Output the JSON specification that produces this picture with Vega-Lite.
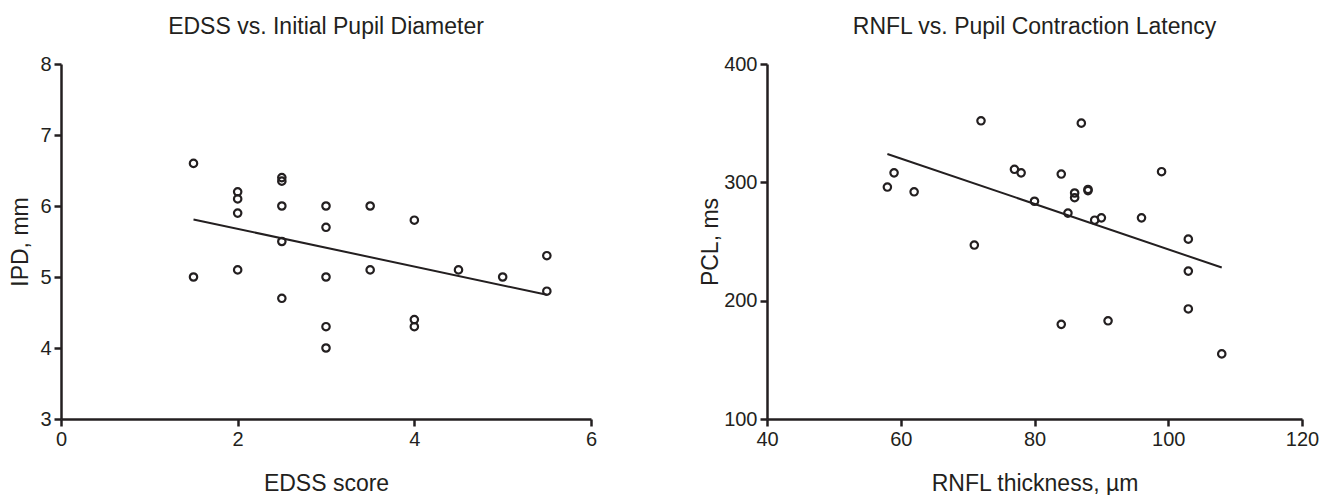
{
  "$schema": "https://vega.github.io/schema/vega-lite/v6.json",
  "padding": {"left": 9, "top": 16, "right": 5, "bottom": 0},
  "background": "white",
  "datasets": {
    "ipd": [
      {"EDSS": 1.5, "IPD": 6.6}, {"EDSS": 1.5, "IPD": 5.0},
      {"EDSS": 2, "IPD": 6.2}, {"EDSS": 2, "IPD": 6.1}, {"EDSS": 2, "IPD": 5.9}, {"EDSS": 2, "IPD": 5.1},
      {"EDSS": 2.5, "IPD": 6.4}, {"EDSS": 2.5, "IPD": 6.35}, {"EDSS": 2.5, "IPD": 6.0}, {"EDSS": 2.5, "IPD": 5.5}, {"EDSS": 2.5, "IPD": 4.7},
      {"EDSS": 3, "IPD": 6.0}, {"EDSS": 3, "IPD": 5.7}, {"EDSS": 3, "IPD": 5.0}, {"EDSS": 3, "IPD": 4.3}, {"EDSS": 3, "IPD": 4.0},
      {"EDSS": 3.5, "IPD": 6.0}, {"EDSS": 3.5, "IPD": 5.1},
      {"EDSS": 4, "IPD": 5.8}, {"EDSS": 4, "IPD": 4.4}, {"EDSS": 4, "IPD": 4.3},
      {"EDSS": 4.5, "IPD": 5.1}, {"EDSS": 5, "IPD": 5.0},
      {"EDSS": 5.5, "IPD": 5.3}, {"EDSS": 5.5, "IPD": 4.8}
    ],
    "ipd_fit": [{"EDSS": 1.5, "IPD": 5.81}, {"EDSS": 5.5, "IPD": 4.75}],
    "pcl": [
      {"RNFL": 58, "PCL": 296}, {"RNFL": 59, "PCL": 308}, {"RNFL": 62, "PCL": 292},
      {"RNFL": 71, "PCL": 247}, {"RNFL": 72, "PCL": 352}, {"RNFL": 77, "PCL": 311},
      {"RNFL": 78, "PCL": 308}, {"RNFL": 80, "PCL": 284}, {"RNFL": 84, "PCL": 307},
      {"RNFL": 84, "PCL": 180}, {"RNFL": 85, "PCL": 274}, {"RNFL": 86, "PCL": 291},
      {"RNFL": 86, "PCL": 287}, {"RNFL": 87, "PCL": 350}, {"RNFL": 88, "PCL": 294},
      {"RNFL": 88, "PCL": 293}, {"RNFL": 89, "PCL": 268}, {"RNFL": 90, "PCL": 270},
      {"RNFL": 91, "PCL": 183}, {"RNFL": 96, "PCL": 270}, {"RNFL": 99, "PCL": 309},
      {"RNFL": 103, "PCL": 252}, {"RNFL": 103, "PCL": 225}, {"RNFL": 103, "PCL": 193},
      {"RNFL": 108, "PCL": 155}
    ],
    "pcl_fit": [{"RNFL": 58, "PCL": 324}, {"RNFL": 108, "PCL": 228}]
  },
  "config": {
    "font": "Liberation Sans",
    "view": {"stroke": null},
    "axis": {
      "grid": false,
      "domainColor": "#231f20", "domainWidth": 2.5,
      "tickColor": "#231f20", "tickWidth": 2.5, "tickSize": 7,
      "labelFontSize": 20, "labelColor": "#231f20", "labelPadding": 3,
      "labelFlush": false, "labelOverlap": false, "format": "d",
      "titleFontSize": 23, "titleFontWeight": "normal", "titleColor": "#231f20"
    },
    "axisX": {"titlePadding": 23},
    "title": {"fontSize": 23, "fontWeight": "normal", "color": "#231f20", "offset": 15, "anchor": "middle"}
  },
  "spacing": 102,
  "hconcat": [
    {
      "title": "EDSS vs. Initial Pupil Diameter",
      "width": 530,
      "height": 355,
      "layer": [
        {
          "data": {"name": "ipd_fit"},
          "mark": {"type": "line", "color": "#231f20", "strokeWidth": 2},
          "encoding": {
            "x": {"field": "EDSS", "type": "quantitative", "scale": {"domain": [0, 6], "nice": false}, "axis": {"values": [0, 2, 4, 6], "title": "EDSS score"}},
            "y": {"field": "IPD", "type": "quantitative", "scale": {"domain": [3, 8], "nice": false, "zero": false}, "axis": {"values": [3, 4, 5, 6, 7, 8], "title": "IPD, mm", "titlePadding": 7}}
          }
        },
        {
          "data": {"name": "ipd"},
          "mark": {"type": "point", "shape": "circle", "filled": false, "stroke": "#231f20", "strokeWidth": 2.2, "size": 55, "opacity": 1},
          "encoding": {
            "x": {"field": "EDSS", "type": "quantitative"},
            "y": {"field": "IPD", "type": "quantitative"}
          }
        }
      ]
    },
    {
      "title": "RNFL vs. Pupil Contraction Latency",
      "width": 535,
      "height": 355,
      "layer": [
        {
          "data": {"name": "pcl_fit"},
          "mark": {"type": "line", "color": "#231f20", "strokeWidth": 2},
          "encoding": {
            "x": {"field": "RNFL", "type": "quantitative", "scale": {"domain": [40, 120], "nice": false, "zero": false}, "axis": {"values": [40, 60, 80, 100, 120], "title": "RNFL thickness, µm"}},
            "y": {"field": "PCL", "type": "quantitative", "scale": {"domain": [100, 400], "nice": false, "zero": false}, "axis": {"values": [100, 200, 300, 400], "title": "PCL, ms", "titlePadding": 1}}
          }
        },
        {
          "data": {"name": "pcl"},
          "mark": {"type": "point", "shape": "circle", "filled": false, "stroke": "#231f20", "strokeWidth": 2.2, "size": 55, "opacity": 1},
          "encoding": {
            "x": {"field": "RNFL", "type": "quantitative"},
            "y": {"field": "PCL", "type": "quantitative"}
          }
        }
      ]
    }
  ]
}
